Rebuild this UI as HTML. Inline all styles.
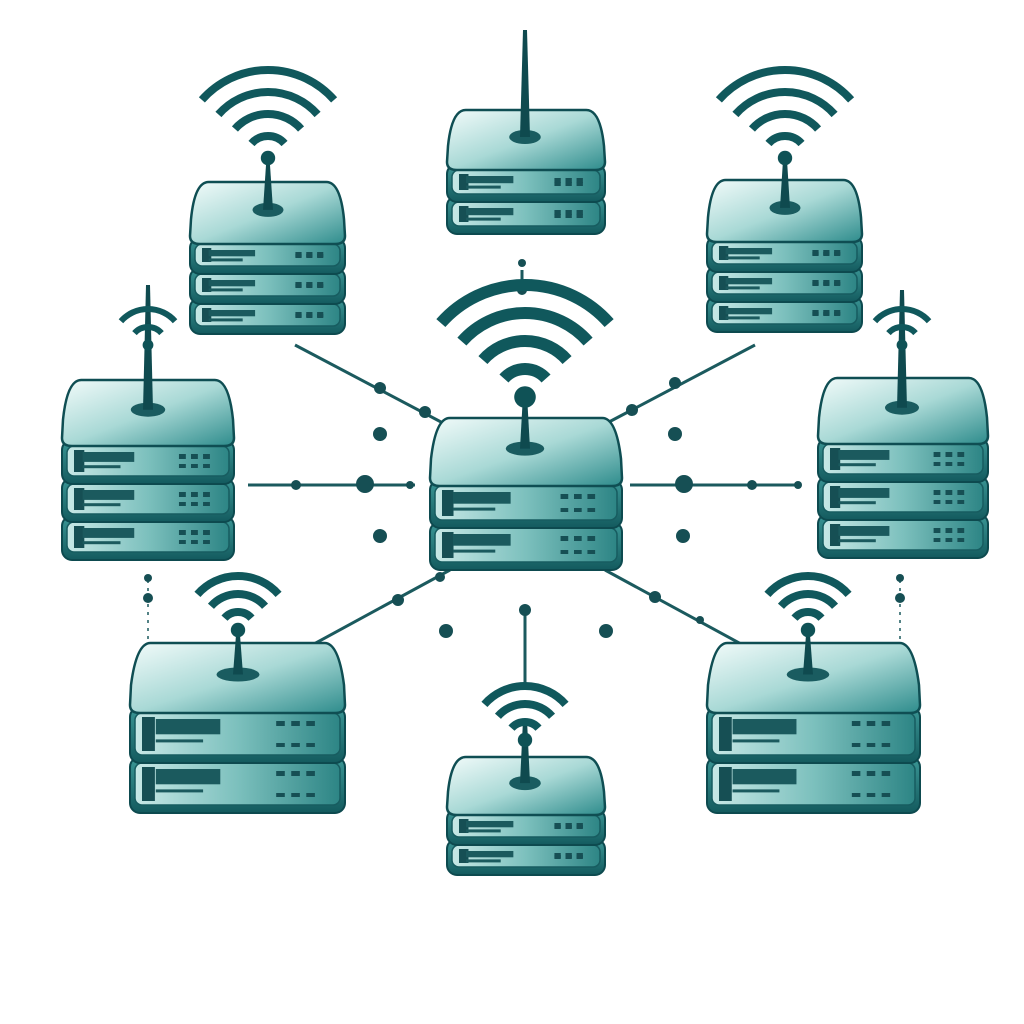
<!DOCTYPE html>
<html><head><meta charset="utf-8"><style>
html,body{margin:0;padding:0;background:#fff;width:1024px;height:1024px;overflow:hidden}
svg{display:block}
</style></head><body>
<svg id="s" width="1024" height="1024" viewBox="0 0 1024 1024" xmlns="http://www.w3.org/2000/svg">
<defs>
<linearGradient id="top" x1="0" y1="0" x2="1" y2="1">
<stop offset="0" stop-color="#f2fbfa"/><stop offset="0.5" stop-color="#a9d9d6"/><stop offset="1" stop-color="#2e8c8c"/></linearGradient>
<linearGradient id="layer" x1="0" y1="0" x2="1" y2="0">
<stop offset="0" stop-color="#c7e8e6"/><stop offset="0.5" stop-color="#7cc0bd"/><stop offset="1" stop-color="#2d8585"/></linearGradient>
<linearGradient id="side" x1="0" y1="0" x2="0" y2="1">
<stop offset="0" stop-color="#3b9796"/><stop offset="1" stop-color="#135a5e"/></linearGradient>
</defs>
<g id="conn" stroke="#1b5a5e" stroke-width="3" fill="#164f54"></g>
<g id="devs"></g>
</svg>
<script>
const NS="http://www.w3.org/2000/svg";
const devs=document.getElementById('devs'), conn=document.getElementById('conn');
function el(p,t,a){const e=document.createElementNS(NS,t);for(const k in a)e.setAttribute(k,a[k]);p.appendChild(e);return e;}
function device(x,y,w,topH,layers,lh,ax,atop,wifi){
  const g=el(devs,'g',{});
  for(let i=layers-1;i>=0;i--){
    const ly=y+topH+i*lh-6;
    el(g,'rect',{x:x,y:ly,width:w,height:lh+6,rx:10,fill:'url(#side)',stroke:'#0d4a4f','stroke-width':2});
    el(g,'rect',{x:x+5,y:ly+6,width:w-10,height:lh-8,rx:7,fill:'url(#layer)',stroke:'#175c60','stroke-width':1.5});
    el(g,'rect',{x:x+12,y:ly+10,width:w*0.06,height:lh-16,fill:'#164f54'});
    el(g,'rect',{x:x+w*0.12,y:ly+12,width:w*0.3,height:(lh-16)*0.45,fill:'#1b5a5e'});
    el(g,'rect',{x:x+w*0.12,y:ly+12+(lh-16)*0.6,width:w*0.22,height:3,fill:'#1b5a5e'});
    for(let j=0;j<3;j++){el(g,'rect',{x:x+w*0.68+j*w*0.07,y:ly+14,width:w*0.04,height:5,fill:'#164f54'});
      el(g,'rect',{x:x+w*0.68+j*w*0.07,y:ly+lh-14,width:w*0.04,height:4,fill:'#164f54'});}
  }
  const i=w*0.03;
  el(g,'path',{d:`M${x+i+14},${y} L${x+w-i-14},${y} Q${x+w-i},${y} ${x+w-1},${y+topH*0.6} L${x+w},${y+topH-8} Q${x+w},${y+topH} ${x+w-10},${y+topH} L${x+10},${y+topH} Q${x},${y+topH} ${x},${y+topH-8} L${x+1},${y+topH*0.6} Q${x+i},${y} ${x+i+14},${y} Z`,fill:'url(#top)',stroke:'#0f4e53','stroke-width':2.5});
  const by=y+topH*0.45;
  el(g,'ellipse',{cx:ax,cy:by,rx:w*0.1,ry:7,fill:'#1a5c60'});
  el(g,'path',{d:`M${ax-5},${by} L${ax-2},${atop} L${ax+2},${atop} L${ax+5},${by} Z`,fill:'#0f4a4f'});
  if(wifi){const [cy,r0,n,sw]=wifi;
    el(g,'circle',{cx:ax,cy:cy,r:sw*0.9,fill:'#0f5256'});
    for(let k=1;k<=n;k++){const r=r0*k;const a=0.85;
      el(g,'path',{d:`M${ax-r*Math.sin(a)},${cy-r*Math.cos(a)} A${r},${r} 0 0 1 ${ax+r*Math.sin(a)},${cy-r*Math.cos(a)}`,fill:'none',stroke:'#10585c','stroke-width':sw,'stroke-linecap':'butt'});}
  }
}
device(190,182,155,62,3,30,268,165,[158,22,4,8]);
device(447,110,158,60,2,32,525,30,null);
device(707,180,155,62,3,30,785,160,[158,22,4,8]);
device(62,380,172,66,3,38,148,285,[345,18,2,6]);
device(430,418,192,68,2,42,525,395,[397,28,4,12]);
device(818,378,170,66,3,38,902,290,[345,18,2,6]);
device(130,643,215,70,2,50,238,635,[630,18,3,8]);
device(447,757,158,58,2,30,525,720,[740,18,3,8]);
device(707,643,213,70,2,50,808,635,[630,18,3,8]);
function L(x1,y1,x2,y2,w){el(conn,'line',{x1,y1,x2,y2,'stroke-width':w||3});}
function D(x,y,r){el(conn,'circle',{cx:x,cy:y,r:r,stroke:'none'});}
L(295,345,460,432);D(380,388,6);D(425,412,6);
L(755,345,590,432);D(675,383,6);D(632,410,6);
L(248,485,415,485);D(296,485,5);D(365,484,9);D(410,485,4);
L(630,485,800,485);D(684,484,9);D(752,485,5);D(798,485,4);
L(290,657,450,570);D(398,600,6);D(440,577,5);
L(605,570,765,657);D(655,597,6);D(700,620,4);
L(525,612,525,690);D(525,610,6);
D(380,434,7);D(675,434,7);D(380,536,7);D(683,536,7);D(446,631,7);D(606,631,7);
D(522,263,4);L(522,270,522,285);D(522,290,5);
el(conn,'line',{x1:148,y1:580,x2:148,y2:690,'stroke-dasharray':'3 5','stroke-width':1.5});D(148,578,4);D(148,598,5);D(148,648,4);
el(conn,'line',{x1:900,y1:580,x2:900,y2:690,'stroke-dasharray':'3 5','stroke-width':1.5});D(900,578,4);D(900,598,5);D(900,648,4);
</script>
</body></html>
